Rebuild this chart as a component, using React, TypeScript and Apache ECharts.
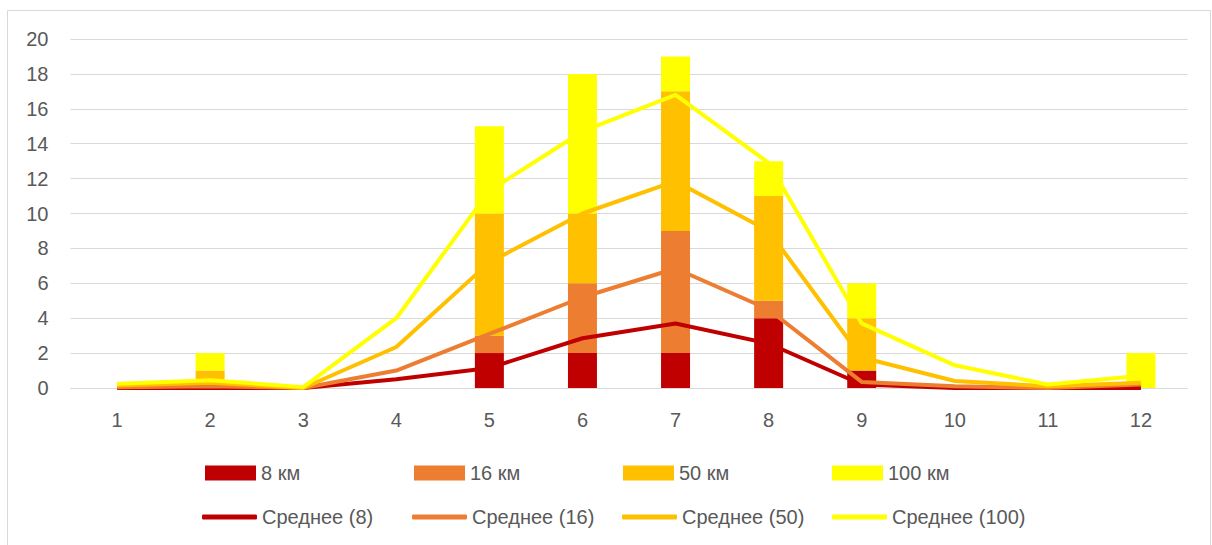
import React, { useEffect, useRef } from "react";
import * as echarts from "echarts";

const categories = ["1", "2", "3", "4", "5", "6", "7", "8", "9", "10", "11", "12"];
const bar8 = [0, 0, 0, 0, 2, 2, 2, 4, 1, 0, 0, 0];
const bar16 = [0, 0, 0, 0, 1, 4, 7, 1, 0, 0, 0, 0];
const bar50 = [0, 1, 0, 0, 7, 4, 8, 6, 3, 0, 0, 0];
const bar100 = [0, 1, 0, 0, 5, 8, 2, 2, 2, 0, 0, 2];
const avg8 = [0, 0, 0, 0.5, 1.15, 2.85, 3.7, 2.55, 0.2, 0, 0, 0];
const avg16 = [0.05, 0.1, 0, 1, 3.1, 5.2, 6.85, 4.5, 0.35, 0.1, 0, 0.2];
const avg50 = [0.15, 0.3, 0, 2.35, 7.2, 10.0, 11.85, 9.0, 1.75, 0.4, 0.1, 0.3];
const avg100 = [0.25, 0.45, 0.05, 4.0, 11.3, 14.7, 16.8, 12.9, 3.7, 1.3, 0.2, 0.7];

const barNames = ["8 км", "16 км", "50 км", "100 км"];
const lineNames = ["Среднее (8)", "Среднее (16)", "Среднее (50)", "Среднее (100)"];
const colors = ["#C00000", "#ED7D31", "#FFC000", "#FFFF00"];

const FONT = "Liberation Sans";
const TXT = "#595959";
const FS = 20;

export default function App() {
  const ref = useRef<HTMLDivElement>(null);
  useEffect(() => {
    if (!ref.current) return;
    const chart = echarts.init(ref.current, undefined, { renderer: "svg" });
    const barData = [bar8, bar16, bar50, bar100];
    const lineData = [avg8, avg16, avg50, avg100];
    const series: any[] = [];
    barData.forEach((d, i) => {
      series.push({
        name: barNames[i],
        type: "bar",
        stack: "total",
        barWidth: 29,
        data: d,
        itemStyle: { color: colors[i] },
        z: 2,
      });
    });
    lineData.forEach((d, i) => {
      series.push({
        name: lineNames[i],
        type: "line",
        data: d,
        symbol: "none",
        showSymbol: false,
        lineStyle: { color: colors[i], width: 4 },
        itemStyle: { color: colors[i] },
        z: 5,
      });
    });
    const barLeft = [205, 414, 623, 832];
    const lineLeft = [202, 412, 622, 832];
    const legends: any[] = [];
    barNames.forEach((n, i) => {
      legends.push({
        data: [n],
        left: barLeft[i],
        top: 463,
        padding: 0,
        itemWidth: 51,
        itemHeight: 15,
        icon: "rect",
        textStyle: { color: TXT, fontFamily: FONT, fontSize: FS },
      });
    });
    lineNames.forEach((n, i) => {
      legends.push({
        data: [n],
        left: lineLeft[i],
        top: 507,
        padding: 0,
        itemWidth: 55,
        itemHeight: 5,
        icon: "roundRect",
        textStyle: { color: TXT, fontFamily: FONT, fontSize: FS },
      });
    });
    chart.setOption({
      animation: false,
      backgroundColor: "#ffffff",
      graphic: [
        {
          type: "rect",
          shape: { x: 7.5, y: 10.5, width: 1203, height: 545 },
          style: { fill: "none", stroke: "#d9d9d9", lineWidth: 1 },
          silent: true,
        },
      ],
      grid: {
        left: 70.5,
        right: 24.5,
        top: 39,
        bottom: 157,
        containLabel: false,
        outerBoundsMode: "none",
      },
      legend: legends,
      xAxis: {
        type: "category",
        data: categories,
        axisLine: { show: true, lineStyle: { color: "#d9d9d9", width: 1 } },
        axisTick: { show: false },
        axisLabel: { color: TXT, fontFamily: FONT, fontSize: FS, margin: 22 },
      },
      yAxis: {
        type: "value",
        min: 0,
        max: 20,
        interval: 2,
        axisLine: { show: false },
        axisTick: { show: false },
        splitLine: { lineStyle: { color: "#d9d9d9", width: 1 } },
        axisLabel: { color: TXT, fontFamily: FONT, fontSize: FS, margin: 22 },
      },
      series,
    });
    return () => chart.dispose();
  }, []);
  return (
    <div
      ref={ref}
      style={{ position: "absolute", left: 0, top: 0, width: 1212, height: 545 }}
    />
  );
}
